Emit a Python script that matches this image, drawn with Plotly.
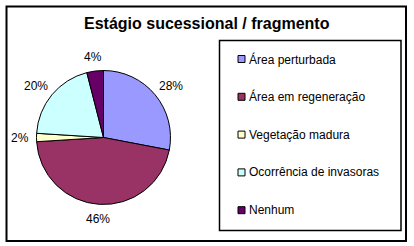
import math
import plotly.graph_objects as go

W, H = 414, 246

title = "Estágio sucessional / fragmento"
labels = ["Área perturbada", "Área em regeneração", "Vegetação madura",
          "Ocorrência de invasoras", "Nenhum"]
values = [28, 46, 2, 20, 4]
colors = ["#9999FF", "#993366", "#FFFFCC", "#CCFFFF", "#660066"]

FONT = "Liberation Sans, Arial, sans-serif"

def px(x):
    return x / W

def py(y):
    return 1 - y / H

# pie geometry (pixels)
cx, cy, r = 103.5, 137.5, 67

fig = go.Figure()
fig.add_trace(go.Pie(
    labels=labels, values=values, sort=False, direction="clockwise", rotation=0,
    marker=dict(colors=colors, line=dict(color="black", width=1)),
    textinfo="none",
    domain=dict(x=[px(cx - r), px(cx + r)], y=[py(cy + r), py(cy - r)]),
    showlegend=False, hoverinfo="label+percent",
))

shapes = [
    dict(type="rect", xref="paper", yref="paper",
         x0=px(6.5), x1=px(406), y0=py(241), y1=py(6.5),
         line=dict(color="black", width=2), fillcolor="rgba(0,0,0,0)"),
    dict(type="rect", xref="paper", yref="paper",
         x0=px(219.5), x1=px(401), y0=py(230.5), y1=py(40.5),
         line=dict(color="black", width=1.5), fillcolor="rgba(0,0,0,0)"),
]
annotations = [
    dict(text="<b>" + title + "</b>", x=px(207), y=py(24), xref="paper", yref="paper",
         showarrow=False, xanchor="center", yanchor="middle",
         font=dict(family=FONT, size=16, color="black")),
]

# percentage labels outside the slices (Excel-style placement)
total = sum(values)
cum = 0
gap = 9
for v in values:
    mid = (cum + v / 2) / total * 2 * math.pi
    cum += v
    txt = f"{round(v / total * 100)}%"
    hw, hh = len(txt) * 3.9, 5.5
    s, c = math.sin(mid), math.cos(mid)
    lx = cx + (r + gap) * s + hw * s
    ly = cy - (r + gap) * c - hh * c
    annotations.append(dict(text=txt, x=px(lx), y=py(ly), xref="paper", yref="paper",
                            showarrow=False, xanchor="center", yanchor="middle",
                            font=dict(family=FONT, size=12, color="black")))

# custom legend
y0, step = 59, 37.8
for i, (lab, col) in enumerate(zip(labels, colors)):
    yc = y0 + i * step
    shapes.append(dict(type="rect", xref="paper", yref="paper",
                       x0=px(238), x1=px(245), y0=py(yc + 3.5), y1=py(yc - 3.5),
                       line=dict(color="black", width=1), fillcolor=col))
    annotations.append(dict(text=lab, x=px(247), y=py(yc), xref="paper", yref="paper",
                            showarrow=False, xanchor="left", yanchor="middle",
                            font=dict(family=FONT, size=12, color="black")))

fig.update_layout(
    width=W, height=H, margin=dict(l=0, r=0, t=0, b=0),
    paper_bgcolor="white", plot_bgcolor="white",
    shapes=shapes, annotations=annotations, showlegend=False,
)

fig.write_html("out.html")
